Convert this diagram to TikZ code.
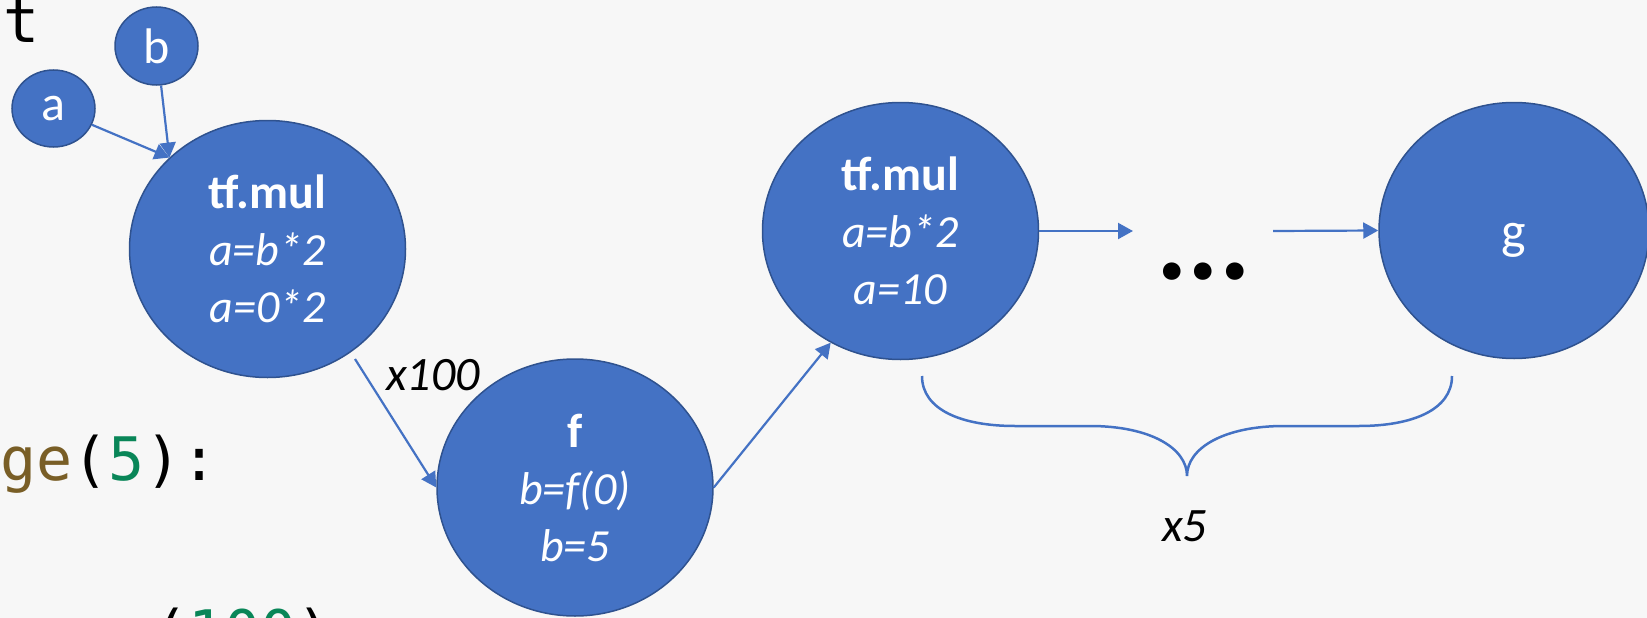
\documentclass[tikz,border=0pt]{standalone}
\usepackage{fontspec}
\setmainfont{Carlito}
\newfontfamily\codefont{DejaVu Sans Mono}
\usetikzlibrary{shapes.geometric,arrows.meta}
\definecolor{nodeblue}{HTML}{4472C4}
\definecolor{nodeedge}{HTML}{2F528F}
\definecolor{bgcol}{HTML}{F7F7F7}
\definecolor{fnbrown}{HTML}{795E26}
\definecolor{numgreen}{HTML}{098658}
\definecolor{kwblue}{HTML}{0000FF}
\newcommand{\boldline}[1]{{\fontsize{48}{57}\selectfont\bfseries #1}}
\begin{document}
\begin{tikzpicture}[x=1pt,y=-1pt,
  bignode/.style={ellipse, fill=nodeblue, draw=nodeedge, line width=1.5pt,
    minimum width=276pt, minimum height=257pt, inner sep=0pt, text=white,
    align=center, font=\fontsize{46}{57}\selectfont},
  smallnode/.style={ellipse, fill=nodeblue, draw=nodeedge, line width=1.5pt,
    minimum width=83pt, minimum height=77pt, inner sep=0pt, text=white,
    font=\fontsize{50}{60}\selectfont},
  arr/.style={draw=nodeblue, line width=2.2pt, -{Triangle[length=15pt,width=16pt]}},
  lbl/.style={inner sep=0pt, font=\fontsize{48}{58}\selectfont\itshape, text=black},
  codetext/.style={inner sep=0pt, font=\fontsize{60}{72}\codefont, text=black}
]
\fill[bgcol] (0,0) rectangle (1647,618);
\useasboundingbox (0,0) rectangle (1647,618);

% code fragments in the background
\node[codetext, anchor=base west] (codetop) at (-33,43) {\textcolor{kwblue}{n}t};
\node[codetext, anchor=base west] (coderange) at (-108,480) {\textcolor{fnbrown}{range}(\textcolor{numgreen}{5}):};
\node[codetext, anchor=base west] (codebottom) at (152,653) {(\textcolor{numgreen}{100})};

% nodes
\node[smallnode] (a) at (53.5,108.5) {a};
\node[smallnode, minimum height=78pt] (b) at (156.5,46) {b};
\node[bignode] (t1) at (267.5,249) {\boldline{tf.mul}\\ \textit{a=b*2}\\ \textit{a=0*2}};
\node[bignode] (f) at (575,487.5) {\boldline{f}\\ \textit{b=f(0)}\\ \textit{b=5}};
\node[bignode] (t2) at (900.5,231) {\boldline{tf.mul}\\ \textit{a=b*2}\\ \textit{a=10}};
\node[bignode, minimum width=270pt, minimum height=256pt, font=\fontsize{52}{60}\selectfont,
  text height=36pt, text depth=0pt] (g) at (1514,230.5) {g};

% labels
\node[lbl, anchor=base west] (x100) at (386,390) {x100};
\node[lbl, anchor=base west] (x5) at (1162,541) {x5};
\node[inner sep=0pt, anchor=base, font=\fontsize{118}{130}\selectfont\bfseries] (dots) at (1203.5,279) {...};

% free ends
\coordinate (s1) at (355,359);
\coordinate (e1) at (1133,231);
\coordinate (s2) at (1273,231);

% connectors
\draw[arr] (a) -- (t1.137);
\draw[arr] (b) -- (t1.137);
\draw[arr] (s1) -- (f.west);
\draw[arr] (f.east) -- (t2.238);
\draw[arr] (t2.east) -- (e1);
\draw[arr] (s2) -- (g.west);

% brace
\draw[nodeblue, line width=2.5pt] (922,376) .. controls (922,410) and (962,426) .. (1015,426)
  -- (1090,426) .. controls (1150,426) and (1187,448) .. (1187,476)
  .. controls (1187,448) and (1224,426) .. (1284,426)
  -- (1359,426) .. controls (1412,426) and (1452,410) .. (1452,376);
\end{tikzpicture}
\end{document}
